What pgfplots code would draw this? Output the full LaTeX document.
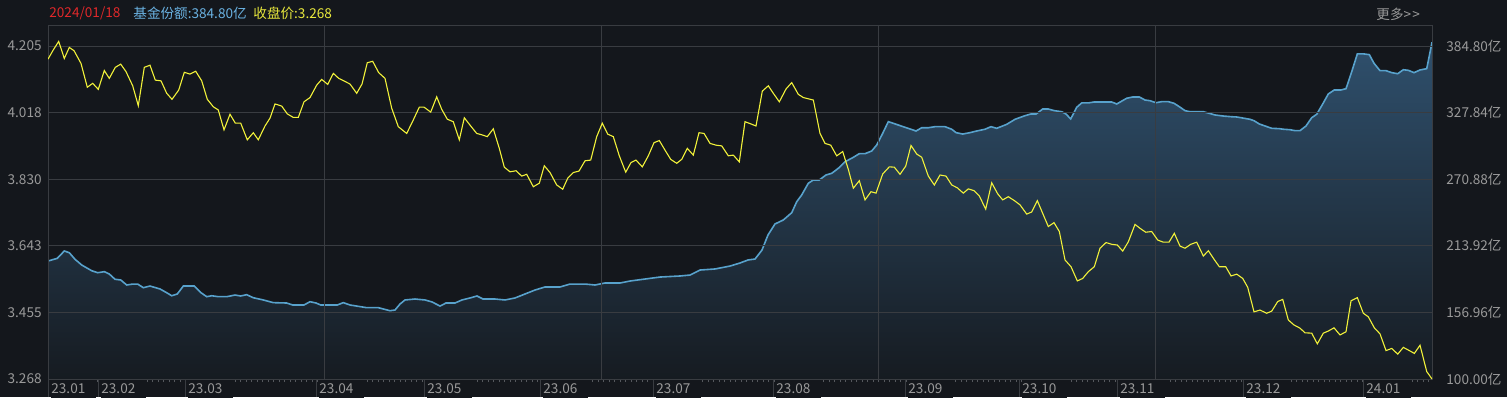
\documentclass[border=0pt]{standalone}
\usepackage{pgfplots}
\pgfplotsset{compat=1.18}
\usepackage{pgfplotstable}
\usepackage{fontspec}
\setmainfont{Noto Sans CJK SC}
\definecolor{bg}{HTML}{14171C}
\definecolor{gridc}{HTML}{393C41}
\definecolor{txtc}{HTML}{9A9A9A}
\definecolor{yel}{HTML}{F2F23A}
\definecolor{bline}{HTML}{58A2CC}
\definecolor{ftop}{HTML}{2F506D}
\definecolor{fbot}{HTML}{161B21}
\definecolor{datec}{HTML}{E0282A}
\definecolor{hblue}{HTML}{6AB2E2}
\definecolor{hyel}{HTML}{E8E83C}
\definecolor{tickc}{HTML}{55585D}
\newcommand{\tlf}{\fontsize{6.8}{8}\selectfont}

\pgfplotstableread{
x y
48 4.168
53.3 4.194
58.7 4.218
64.3 4.170
69.3 4.201
74 4.192
81 4.156
87.3 4.089
92.7 4.100
98.3 4.083
104.3 4.136
109.3 4.114
115.3 4.145
120.7 4.154
126 4.133
132.7 4.093
138.3 4.037
144.3 4.145
150 4.151
155.3 4.109
161 4.107
166.7 4.072
172 4.055
178.7 4.081
184.3 4.131
190 4.126
195.7 4.134
201.7 4.107
207.3 4.055
213.3 4.034
218.3 4.025
224 3.969
230 4.013
235.3 3.988
240.7 3.988
247.3 3.941
253.3 3.961
258.3 3.941
265 3.980
270 4.002
275 4.042
281.7 4.036
287.3 4.014
293.3 4.004
298.3 4.004
304 4.048
310 4.060
316.7 4.095
321.7 4.111
327.7 4.097
333.3 4.128
338.7 4.114
344.5 4.106
350 4.098
356.7 4.072
362 4.098
367.3 4.158
372.7 4.162
378.7 4.130
385 4.114
391.7 4.030
398.3 3.978
406.7 3.959
413.3 3.997
419.3 4.033
424 4.033
430.7 4.019
436.7 4.062
441.7 4.027
447.3 3.999
453.3 3.992
459.3 3.941
464.3 4.003
470.7 3.980
476.7 3.959
482 3.955
487.3 3.950
493.3 3.972
499.3 3.917
504.3 3.864
510 3.851
516 3.854
521.7 3.839
526.7 3.844
533.3 3.809
539.3 3.819
544.3 3.868
550 3.849
556.7 3.814
562.7 3.802
567.7 3.833
573.3 3.849
579 3.853
585 3.882
590.7 3.884
596.7 3.950
602.3 3.988
607.7 3.957
613.3 3.950
619.3 3.896
625.7 3.850
631 3.877
636 3.884
642.3 3.865
648.3 3.896
654 3.933
659.3 3.939
665 3.912
670.7 3.886
676.7 3.875
681.7 3.886
687.3 3.917
693.3 3.898
699 3.961
704 3.959
710 3.931
716 3.926
721.7 3.924
728.3 3.896
733.3 3.898
739.3 3.879
745 3.992
750.7 3.986
756 3.980
762.3 4.078
768.3 4.093
773.8 4.070
779.3 4.048
786 4.084
791.7 4.102
798.3 4.069
803.3 4.060
813.3 4.053
820 3.959
825 3.931
830.7 3.926
836.7 3.896
842.7 3.908
848.3 3.858
853.3 3.805
859.3 3.826
865 3.772
871 3.795
876 3.791
882.7 3.845
889.3 3.865
894.3 3.864
900 3.844
905.7 3.867
911 3.925
916.7 3.901
921.7 3.892
928.3 3.839
934.3 3.814
940 3.842
946 3.839
951.7 3.814
957.3 3.806
963.3 3.791
968.3 3.803
974 3.798
979.3 3.783
985.7 3.746
991.7 3.820
997.7 3.789
1002.7 3.772
1008.3 3.781
1014.3 3.770
1020 3.758
1026.7 3.732
1031.7 3.738
1037.3 3.770
1043.3 3.730
1048.3 3.697
1054 3.708
1059.3 3.683
1065 3.603
1071 3.584
1077.3 3.544
1082.7 3.551
1088.3 3.570
1094.3 3.584
1100 3.636
1106 3.652
1111.7 3.647
1117.3 3.645
1122.7 3.628
1128.3 3.654
1135 3.703
1140 3.692
1145.7 3.681
1151.7 3.683
1157.7 3.659
1163.3 3.653
1169 3.653
1174.3 3.678
1180 3.642
1185 3.636
1190.7 3.647
1196.7 3.653
1203.3 3.614
1208.3 3.629
1214 3.605
1219.3 3.584
1225.7 3.584
1231 3.558
1236.7 3.563
1242.7 3.551
1247.7 3.526
1254 3.457
1260 3.462
1266.7 3.453
1271.7 3.459
1277.7 3.486
1282.7 3.492
1288.3 3.434
1294 3.420
1300 3.411
1305 3.398
1311.7 3.397
1317.3 3.367
1323.3 3.397
1328.3 3.403
1334 3.412
1340 3.392
1346 3.401
1351 3.488
1357.3 3.497
1363.3 3.453
1368.3 3.443
1374.3 3.412
1380 3.395
1386 3.348
1391.7 3.354
1397.7 3.338
1403.3 3.357
1409.3 3.348
1414.3 3.340
1420 3.363
1426.7 3.289
1432 3.268
}\pricetab

\pgfplotstableread{
x y
48 200.9
57.3 203.2
64.3 209.5
69.3 208.0
75 202.4
81.7 197.5
91.7 192.6
97.7 190.9
104.3 191.8
109.3 189.8
115 185.3
120.7 184.7
126.7 180.4
132.7 181.2
137.7 181.2
143.3 178.1
150 179.5
160 177.0
166.7 173.8
171.7 171.2
177.3 172.7
183.3 179.5
194.3 179.5
201 173.8
206.7 170.4
211.7 171.2
218.3 170.4
226.7 170.4
235 171.8
240.7 171.0
246.7 172.1
253.3 169.5
263.3 167.6
273.3 165.3
286.7 165.0
292.7 163.3
304 163.3
310 166.1
316 165.0
320.7 163.3
337.3 163.3
343.3 165.3
350 163.3
366.7 161.0
378.3 161.0
390 158.4
395 159.0
400 164.1
405 167.6
415 168.4
425 167.6
432 165.9
440 162.4
446 165.0
455 165.0
462 167.6
470 169.3
477 171.0
483 168.4
495 168.4
505 167.6
515 169.3
525 172.7
535 176.1
545 178.7
560 178.7
570 181.2
585 181.2
595 180.4
605 182.1
620 182.1
630 183.8
645 185.5
660 187.2
680 188.1
690 188.9
700 193.2
715 194.1
730 196.6
740 199.2
748 201.8
755 202.6
762 210.3
768 223.2
775 232.6
783.3 236.0
791.7 242.2
796.7 251.6
801.7 257.4
808.3 267.4
813.3 270.2
819.3 270.2
826 274.5
831.7 275.9
838.3 280.2
845 285.8
852.7 289.3
859.3 292.7
865 292.7
871.7 295.0
876.7 300.1
882.7 310.1
888.3 320.1
916 312.1
921.7 314.9
928.3 314.9
935 315.8
945 315.8
951.7 313.6
956 310.7
962.7 309.5
970 310.7
976.7 312.1
985 313.6
991 315.8
996.7 314.4
1006.7 317.8
1015 322.1
1025 325.2
1030.7 326.6
1036 326.6
1042.7 330.9
1048.3 330.9
1054.3 329.5
1061.7 328.6
1066 326.6
1070.7 322.4
1076.7 332.4
1081.7 336.1
1088.3 336.1
1094 336.9
1111.7 336.9
1116.7 335.2
1126.7 340.1
1132.7 341.2
1139.3 341.2
1145 338.6
1150 338.0
1156 336.3
1161.7 337.2
1168.3 337.2
1174 335.8
1179.3 332.9
1185 329.5
1190 328.6
1203.3 328.6
1209.3 327.2
1215 325.8
1223.3 324.9
1231.7 324.3
1236.7 324.1
1242.7 323.2
1250 322.1
1254 320.9
1259.3 318.1
1265 316.4
1271.7 314.4
1279.3 314.1
1283.3 313.6
1290 313.2
1295 312.4
1300 312.4
1306 316.4
1311.7 323.5
1316.7 326.4
1322.7 335.2
1328.3 343.8
1334.3 347.2
1341 347.2
1346 348.3
1351.7 362.8
1357.3 378.0
1364 378.0
1369.3 377.4
1374 370.0
1380 363.7
1386 363.7
1391.7 362.0
1397.7 361.1
1403.3 364.5
1408.3 364.0
1414 362.0
1420 364.3
1426.7 365.4
1432 388.0
}\sharetab

\begin{document}
\begin{tikzpicture}
\fill[bg] (0,0) rectangle (753.5pt,198.5pt);
% share axis (right)
\begin{axis}[
  at={(24pt,9pt)}, anchor=south west, scale only axis,
  width=692pt, height=177pt,
  xmin=48, xmax=1432, ymin=100, ymax=402.76,
  axis on top,
  axis line style={draw=none},
  xtick={48,53.5,...,1432}, xticklabels={},
  xtick pos=lower, tick align=outside,
  major tick length=1.5pt,
  xtick style={draw=tickc, line width=0.5pt},
  extra x ticks={324.8,601.6,878.4,1155.2},
  extra x tick labels={},
  extra x tick style={grid=major, major tick length=0pt},
  major grid style={draw=gridc, line width=0.5pt},
  ytick={100,156.96,213.92,270.88,327.84,384.80},
  yticklabels={100.00亿,156.96亿,213.92亿,270.88亿,327.84亿,384.80亿},
  yticklabel pos=right,
  ytick style={draw=none},
  yticklabel style={anchor=west, inner sep=0pt, xshift=5.5pt},
  tick label style={font=\tlf, text=txtc},
]
\addplot[draw=none, top color=ftop, bottom color=fbot] table {\sharetab} |- (axis cs:48,100) -- cycle;
\addplot[bline, line width=0.8pt] table {\sharetab};
\end{axis}
% price axis (left)
\begin{axis}[
  at={(24pt,9pt)}, anchor=south west, scale only axis,
  width=692pt, height=177pt,
  xmin=48, xmax=1432, ymin=3.268, ymax=4.2641,
  axis line style={draw=gridc, line width=0.5pt},
  xtick={48,98,185,316,424,540,653,773,905,1019,1117,1243,1363},
  xticklabels={23.01,23.02,23.03,23.04,23.05,23.06,23.07,23.08,23.09,23.10,23.11,23.12,24.01},
  xtick pos=lower, tick align=outside, major tick length=9pt,
  xtick style={draw=gridc, line width=0.5pt},
  ytick={3.268,3.4554,3.6428,3.8302,4.0176,4.205},
  yticklabels={3.268,3.455,3.643,3.830,4.018,4.205},
  ytick style={draw=none},
  ymajorgrids,
  major grid style={draw=gridc, line width=0.5pt},
  yticklabel style={anchor=east, inner sep=0pt, xshift=6pt},
  xticklabel style={anchor=west, inner sep=0pt, xshift=1.5pt, yshift=4pt,
    fill=bg, text width=22.5pt, align=left, minimum height=9pt},
  tick label style={font=\tlf, text=txtc},
]
\addplot[yel, line width=0.55pt] table {\pricetab};
\end{axis}
\node[anchor=west, inner sep=0pt, text=datec, font=\tlf] at (24.5pt,192pt) {2024/01/18};
\node[anchor=west, inner sep=0pt, text=hblue, font=\tlf] at (66.5pt,192pt) {基金份额:384.80亿};
\node[anchor=west, inner sep=0pt, text=hyel, font=\tlf] at (126.5pt,192pt) {收盘价:3.268};
\node[anchor=west, inner sep=0pt, text=txtc, font=\tlf] at (688pt,191.5pt) {更多>{}\kern0.6pt>};
\pgfresetboundingbox
\useasboundingbox (0,0) rectangle (753.5pt,198.5pt);
\end{tikzpicture}
\end{document}
